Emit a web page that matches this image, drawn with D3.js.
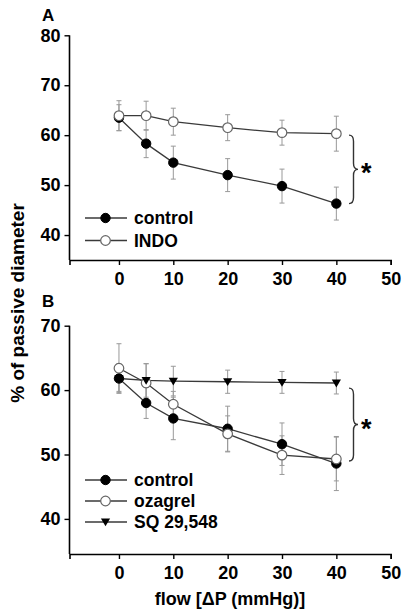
<!DOCTYPE html>
<html><head><meta charset="utf-8">
<script src="https://cdn.jsdelivr.net/npm/d3@7"></script>
<style>
html,body{margin:0;padding:0;background:#fff;}
svg text{font-family:"Liberation Sans",Arial,sans-serif;font-weight:bold;fill:#000;}
</style></head>
<body><svg id="c" width="403" height="612"></svg>
<script>
// ---- data ----
const flowX = [0, 5, 10, 20, 30, 40];
const xTicks = [0, 10, 20, 30, 40, 50];
const yTicksA = [40, 50, 60, 70, 80];
const yTicksB = [40, 50, 60, 70];

const aControl    = [63.5, 58.3, 54.5, 52.0, 49.8, 46.3];
const aControlErr = [2.6, 2.8, 3.3, 3.3, 3.4, 3.3];
const aIndo       = [63.9, 63.9, 62.7, 61.5, 60.5, 60.3];
const aIndoErr    = [3.0, 2.9, 2.7, 2.6, 2.5, 3.5];

const bControl    = [61.8, 58.0, 55.6, 54.0, 51.6, 48.6];
const bControlErr = [2.3, 2.4, 3.3, 3.5, 3.3, 4.2];
const bOzagrel    = [63.4, 61.1, 57.8, 53.2, 49.9, 49.3];
const bOzagrelErr = [3.8, 3.0, 2.0, 2.8, 3.0, 3.4];
const bSQ         = [61.8, 61.5, 61.4, 61.3, 61.2, 61.1];
const bSQErr      = [2.0, 2.6, 2.3, 1.8, 1.7, 1.7];

const seriesA = [
  {name: "control", vals: aControl, err: aControlErr, marker: "filled"},
  {name: "INDO", vals: aIndo, err: aIndoErr, marker: "open"}
];
const seriesB = [
  {name: "control", vals: bControl, err: bControlErr, marker: "filled"},
  {name: "ozagrel", vals: bOzagrel, err: bOzagrelErr, marker: "open"},
  {name: "SQ 29,548", vals: bSQ, err: bSQErr, marker: "tri"}
];

const svg = d3.select("#c");
const x = d3.scaleLinear().domain([-9.1, 50]).range([69.5, 390.7]);

function marker(g, type, cx, cy) {
  if (type === "filled") {
    g.append("circle").attr("cx", cx).attr("cy", cy).attr("r", 4.7)
      .attr("fill", "#000").attr("stroke", "#000").attr("stroke-width", 1);
  } else if (type === "open") {
    g.append("circle").attr("cx", cx).attr("cy", cy).attr("r", 4.8)
      .attr("fill", "#fff").attr("stroke", "#666").attr("stroke-width", 1.2);
  } else {
    const s = 4.6;
    g.append("path").attr("d", `M${cx - s},${cy - s * 0.75}L${cx + s},${cy - s * 0.75}L${cx},${cy + s * 0.95}Z`)
      .attr("fill", "#000");
  }
}

function panel(label, labelY, y, yTicks, series, legendY, brace) {
  const g = svg.append("g");
  const xa = g.append("g").attr("transform", `translate(0,${y.range()[0]})`)
    .call(d3.axisBottom(x).tickValues(xTicks).tickSizeOuter(0).tickSize(5).tickPadding(7));
  const ya = g.append("g").attr("transform", `translate(${x.range()[0]},0)`)
    .call(d3.axisLeft(y).tickValues(yTicks).tickSizeOuter(0).tickSize(5).tickPadding(4));
  [xa, ya].forEach(a => {
    a.select(".domain").attr("stroke", "#000").attr("stroke-width", 1.6);
    a.selectAll(".tick line").attr("stroke", "#000").attr("stroke-width", 1.4);
    a.selectAll(".tick text").attr("font-size", 18).attr("font-family", "Liberation Sans, Arial, sans-serif").attr("font-weight", "bold").attr("fill", "#000");
  });
  ya.select(".domain").attr("d", `M0,${y(yTicks[yTicks.length - 1])}V${y.range()[0]}`);

  g.append("text").attr("x", 42).attr("y", labelY).attr("font-size", 17).text(label);

  series.forEach(s => {
    const eg = g.append("g").attr("stroke", "#999").attr("stroke-width", 1);
    flowX.forEach((fx, i) => {
      const px = x(fx), t = y(s.vals[i] + s.err[i]), b = y(s.vals[i] - s.err[i]);
      eg.append("line").attr("x1", px).attr("x2", px).attr("y1", t).attr("y2", b);
      eg.append("line").attr("x1", px - 2.5).attr("x2", px + 2.5).attr("y1", t).attr("y2", t);
      eg.append("line").attr("x1", px - 2.5).attr("x2", px + 2.5).attr("y1", b).attr("y2", b);
    });
  });
  const line = d3.line().x((d, i) => x(flowX[i])).y(d => y(d));
  series.forEach(s => {
    g.append("path").attr("d", line(s.vals)).attr("fill", "none")
      .attr("stroke", "#3a3a3a").attr("stroke-width", 1.3);
  });
  series.forEach(s => {
    flowX.forEach((fx, i) => marker(g, s.marker, x(fx), y(s.vals[i])));
  });

  series.forEach((s, i) => {
    const ly = legendY[i];
    g.append("line").attr("x1", 85).attr("x2", 127).attr("y1", ly).attr("y2", ly)
      .attr("stroke", "#3a3a3a").attr("stroke-width", 1.3);
    marker(g, s.marker, 105.5, ly);
    g.append("text").attr("x", 134).attr("y", ly + 6).attr("font-size", 17.5).text(s.name);
  });

  const y0 = y(brace[0]), y1 = y(brace[1]), ym = (y0 + y1) / 2;
  const bx = 349, w = 9, r = 6, mx = bx + w / 2;
  g.append("path").attr("d",
    `M${bx},${y0}Q${mx},${y0} ${mx},${y0 + r}L${mx},${ym - r}Q${mx},${ym} ${bx + w},${ym}` +
    `Q${mx},${ym} ${mx},${ym + r}L${mx},${y1 - r}Q${mx},${y1} ${bx},${y1}`)
    .attr("fill", "none").attr("stroke", "#333").attr("stroke-width", 1.4);
  g.append("text").attr("x", 361).attr("y", ym + 13).attr("font-size", 27).text("*");
}

const yA = d3.scaleLinear().domain([35, 80]).range([260, 35.3]);
const yB = d3.scaleLinear().domain([34.55, 70]).range([554, 325.7]);

panel("A", 21, yA, yTicksA, seriesA, [218, 240.5], [aIndo[5] - 0.3, aControl[5]]);
panel("B", 307, yB, yTicksB, seriesB, [480, 501, 522], [bSQ[5] - 0.8, bOzagrel[5] - 0.3]);

svg.append("text").attr("transform", "translate(24,303) rotate(-90)")
  .attr("text-anchor", "middle").attr("font-size", 19).text("% of passive diameter");
svg.append("text").attr("x", 230).attr("y", 605)
  .attr("text-anchor", "middle").attr("font-size", 18).text("flow [ΔP (mmHg)]");
</script></body></html>
